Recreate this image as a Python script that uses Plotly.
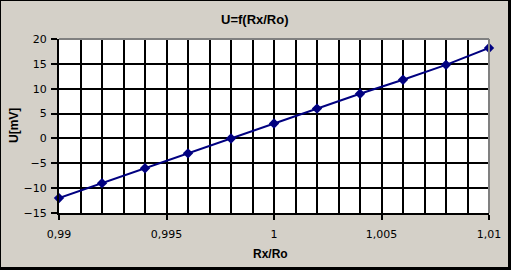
import plotly.graph_objects as go

ratio = [0.99, 0.992, 0.994, 0.996, 0.998, 1.0, 1.002, 1.004, 1.006, 1.008, 1.01]
voltage = [-12, -9, -6, -3, 0, 3, 6, 9, 11.8, 14.8, 18.2]
title_text = "U=f(Rx/Ro)"
x_title = "Rx/Ro"
y_title = "U[mV]"

W, H = 511, 270
L, R, T, B = 59, 489, 39, 213
pw, ph = R - L, B - T

def px(x):
    return (x - L) / pw

def py(y):
    return (B - y) / ph

navy = "#000080"
fig = go.Figure()
fig.add_trace(go.Scatter(
    x=ratio, y=voltage, mode="lines+markers",
    line=dict(color=navy, width=2),
    marker=dict(symbol="diamond", size=8, color=navy),
    showlegend=False, cliponaxis=False,
))

tickfont = dict(family="DejaVu Sans, Verdana, sans-serif", size=11, color="black")
fig.update_layout(
    width=W, height=H,
    margin=dict(l=L, r=W - R, t=T, b=H - B),
    paper_bgcolor="#D4D0C8", plot_bgcolor="white",
    separators=", ",
    xaxis=dict(
        range=[0.99, 1.01], dtick=0.005, tick0=0.99, tickformat="~g",
        showgrid=True, gridcolor="black", gridwidth=2,
        minor=dict(dtick=0.001, showgrid=True, gridcolor="black", gridwidth=2, ticks=""),
        ticks="outside", ticklen=5, tickwidth=2, tickcolor="black",
        showline=True, linecolor="black", linewidth=2, automargin=False,
        zeroline=False, tickfont=tickfont, ticklabelstandoff=5,
    ),
    yaxis=dict(
        range=[-15, 20], dtick=5, tick0=-15,
        showgrid=True, gridcolor="black", gridwidth=2,
        ticks="outside", ticklen=6, tickwidth=2, tickcolor="black",
        showline=True, linecolor="black", linewidth=2, automargin=False,
        zeroline=False, tickfont=tickfont, ticklabelstandoff=2,
    ),
)

bold = dict(family="Liberation Sans, Arial, sans-serif", size=13, color="black")
fig.add_annotation(text="<b>" + title_text + "</b>", xref="paper", yref="paper",
                   x=px(255), y=py(19.5), showarrow=False, font=bold,
                   xanchor="center", yanchor="middle")
fig.add_annotation(text="<b>" + x_title + "</b>", xref="paper", yref="paper",
                   x=px(270.5), y=py(254), showarrow=False,
                   font=dict(bold, size=12), xanchor="center", yanchor="middle")
fig.add_annotation(text="<b>" + y_title + "</b>", xref="paper", yref="paper",
                   x=px(14), y=py(126), showarrow=False, textangle=-90,
                   font=dict(bold, size=12), xanchor="center", yanchor="middle")

# plot area gray top/right edges
fig.add_shape(type="line", xref="paper", yref="paper", x0=0, x1=1, y0=1, y1=1,
              line=dict(color="#808080", width=2))
fig.add_shape(type="line", xref="paper", yref="paper", x0=1, x1=1, y0=0, y1=1,
              line=dict(color="#808080", width=2))

# outer frame
fig.add_shape(type="line", xref="paper", yref="paper", x0=px(0), x1=px(W), y0=py(0.5), y1=py(0.5),
              line=dict(color="black", width=1))
fig.add_shape(type="line", xref="paper", yref="paper", x0=px(0.5), x1=px(0.5), y0=py(0), y1=py(H),
              line=dict(color="black", width=1))
fig.add_shape(type="line", xref="paper", yref="paper", x0=px(0), x1=px(W), y0=py(H - 1.5), y1=py(H - 1.5),
              line=dict(color="black", width=3))
fig.add_shape(type="line", xref="paper", yref="paper", x0=px(W - 1.5), x1=px(W - 1.5), y0=py(0), y1=py(H),
              line=dict(color="black", width=3))

fig.write_html("out.html")
